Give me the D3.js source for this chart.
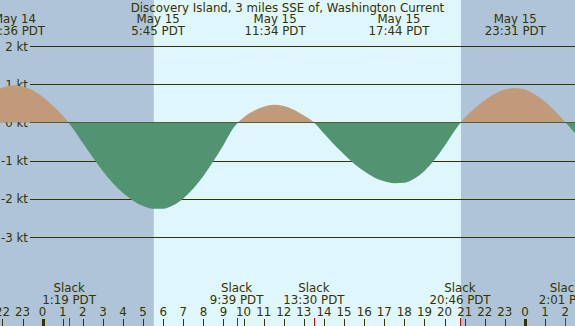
<!DOCTYPE html>
<html lang="en">
<head>
<meta charset="UTF-8" />
<title>Discovery Island Current</title>
<style>
  body { margin: 0; background: #fff; }
  svg { display: block; font-family: "DejaVu Sans", sans-serif; }
</style>
</head>
<body>
<div id="chart"></div>
<script src="https://d3js.org/d3.v7.min.js"></script>
<script>
  const W = 575, H = 326;

  const title = "Discovery Island, 3 miles SSE of, Washington Current";

  // hours are counted from May 15 00:00 PDT
  const sampleStart = -2.5, sampleStep = 0.5;
  const speedKt = [
    0.78, 0.91, 0.97, 0.94, 0.84, 0.67, 0.44, 0.18, -0.15, -0.54,
    -0.92, -1.28, -1.59, -1.85, -2.05, -2.19, -2.26, -2.26, -2.17, -1.99,
    -1.73, -1.40, -1.01, -0.59, -0.14, 0.13, 0.30, 0.41, 0.46, 0.43,
    0.33, 0.18, 0.00, -0.29, -0.58, -0.84, -1.08, -1.28, -1.44, -1.54,
    -1.59, -1.58, -1.47, -1.27, -0.98, -0.62, -0.22, 0.12, 0.37, 0.58,
    0.75, 0.86, 0.90, 0.86, 0.73, 0.54, 0.29, 0.01, -0.29, -0.58
  ];

  // max / min current labels along the top
  const peakDays = ["May 14", "May 15", "May 15", "May 15", "May 15"];
  const peakTimes = ["22:36", "5:45", "11:34", "17:44", "23:31"];
  const peakOffsets = [-24, 0, 0, 0, 0];

  // slack water labels along the bottom
  const slackTimes = ["1:19", "9:39", "13:30", "20:46", "2:01"];
  const slackOffsets = [0, 0, 0, 0, 24];

  const sunrise = "5:32", sunset = "20:49";

  const ktTicks = [2, 1, 0, -1, -2, -3];
  const hourTicks = d3.range(-2, 27);

  const toHours = (s, off) => {
    const [h, m] = s.split(":").map(Number);
    return h + m / 60 + (off || 0);
  };

  const x = d3.scaleLinear().domain([-2.12, 26.49]).range([0, W]);
  const y = d3.scaleLinear().domain([2, -3]).range([46, 237]);

  const txt = "#333300";
  const fs = 11.8;
  const dayCol = "#dff6fd", nightCol = "#afc4d9";
  const floodCol = "#c09a79", ebbCol = "#529471";

  const svg = d3.select("#chart").append("svg")
    .attr("width", W).attr("height", H);

  // day / night background
  svg.append("rect").attr("width", W).attr("height", H).attr("fill", dayCol);
  svg.append("rect").attr("x", 0).attr("y", 0)
    .attr("width", x(toHours(sunrise))).attr("height", H).attr("fill", nightCol);
  svg.append("rect").attr("x", x(toHours(sunset))).attr("y", 0)
    .attr("width", W - x(toHours(sunset))).attr("height", H).attr("fill", nightCol);

  // kt grid lines + labels
  const grid = svg.append("g");
  grid.selectAll("line").data(ktTicks).join("line")
    .attr("x1", 30).attr("x2", W)
    .attr("y1", d => Math.round(y(d)) + 0.5).attr("y2", d => Math.round(y(d)) + 0.5)
    .attr("stroke", txt).attr("stroke-width", 1);
  grid.selectAll("text").data(ktTicks).join("text")
    .attr("x", 28).attr("y", d => y(d) + 4.5)
    .attr("text-anchor", "end").attr("font-size", fs).attr("fill", txt)
    .text(d => d + " kt");

  // current curve, split into flood (above 0) and ebb (below 0)
  const pts = speedKt.map((v, i) => ({ t: sampleStart + i * sampleStep, v }));
  const area = d3.area()
    .x(d => x(d.t)).y0(y(0)).y1(d => y(d.v))
    .curve(d3.curveMonotoneX);

  const defs = svg.append("defs");
  defs.append("clipPath").attr("id", "above")
    .append("rect").attr("x", 0).attr("y", 0).attr("width", W).attr("height", y(0));
  defs.append("clipPath").attr("id", "below")
    .append("rect").attr("x", 0).attr("y", y(0)).attr("width", W).attr("height", H - y(0));

  svg.append("path").datum(pts).attr("d", area)
    .attr("fill", floodCol).attr("clip-path", "url(#above)");
  svg.append("path").datum(pts).attr("d", area)
    .attr("fill", ebbCol).attr("clip-path", "url(#below)");

  // title and peak labels
  svg.append("text").attr("x", W / 2).attr("y", 11.7)
    .attr("text-anchor", "middle").attr("font-size", fs).attr("fill", txt)
    .text(title);

  const peaks = svg.append("g").attr("font-size", fs).attr("fill", txt)
    .attr("text-anchor", "middle");
  peakTimes.forEach((t, i) => {
    const px = x(toHours(t, peakOffsets[i]));
    peaks.append("text").attr("x", px).attr("y", 23.4).text(peakDays[i]);
    peaks.append("text").attr("x", px).attr("y", 35).text(t + " PDT");
  });

  // slack labels
  const slacks = svg.append("g").attr("font-size", fs).attr("fill", txt)
    .attr("text-anchor", "middle");
  slackTimes.forEach((t, i) => {
    const sx = x(toHours(t, slackOffsets[i]));
    slacks.append("text").attr("x", sx).attr("y", 292).text("Slack");
    slacks.append("text").attr("x", sx).attr("y", 304).text(t + " PDT");
  });

  // hour axis
  const axis = svg.append("g");
  axis.selectAll("text").data(hourTicks).join("text")
    .attr("x", d => x(d)).attr("y", 316)
    .attr("text-anchor", "middle").attr("font-size", fs).attr("fill", txt)
    .text(d => ((d % 24) + 24) % 24);
  axis.selectAll("line.hr").data(hourTicks).join("line")
    .attr("class", "hr")
    .attr("x1", d => Math.round(x(d)) + 0.5).attr("x2", d => Math.round(x(d)) + 0.5)
    .attr("y1", 319).attr("y2", H)
    .attr("stroke", txt)
    .attr("stroke-width", d => d % 24 === 0 ? 3 : 1);
  axis.selectAll("line.sl").data(slackTimes).join("line")
    .attr("class", "sl")
    .attr("x1", (d, i) => Math.round(x(toHours(d, slackOffsets[i]))) + 0.5)
    .attr("x2", (d, i) => Math.round(x(toHours(d, slackOffsets[i]))) + 0.5)
    .attr("y1", 318).attr("y2", H)
    .attr("stroke", "#e00000").attr("stroke-width", 1);
</script>
</body>
</html>
